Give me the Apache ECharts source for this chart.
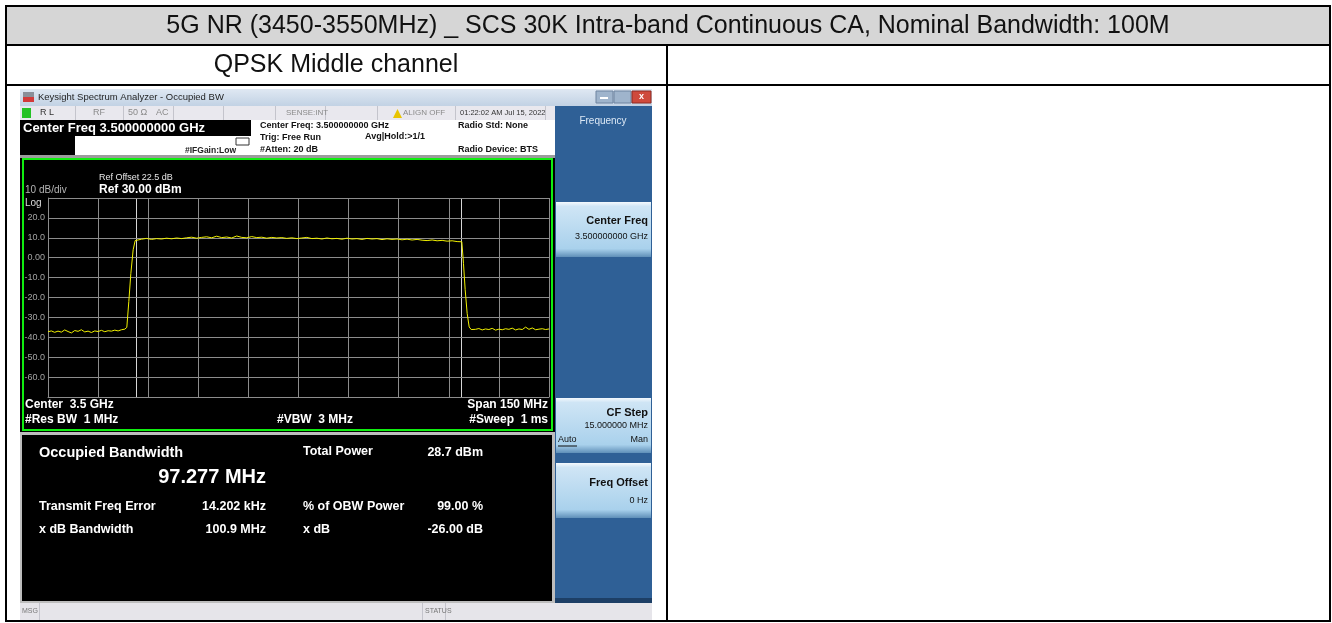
<!DOCTYPE html>
<html>
<head>
<meta charset="utf-8">
<script src="https://cdn.jsdelivr.net/npm/echarts@6/dist/echarts.min.js"></script>
<style>
html,body{margin:0;padding:0;background:#fff;}
#chart{width:1332px;height:623px;}
</style>
</head>
<body>
<div id="chart"></div>
<script>
// trace: offset from center (MHz) / level (dBm)
var traceOffset = [
  -75,-74,-73,-72,-71,-70,-69,-68,-67,-66,-65,-64,-63,-62,-61,-60,-59,-58,-57,-56,-55,-54,-53,-52,
  -51.4,-50.8,-50.2,-49.5,-48.9,-48.4,
  -47,-45.5,-44,-42.5,-41,-39.5,-38,-36.5,-35,-33.5,-32,-30.5,-29,-27.5,-26,-24.5,-23,-21.5,-20,-18.5,
  -17,-15.5,-14,-12.5,-11,-9.5,-8,-6.5,-5,-3.5,-2,-0.5,1,2.5,4,5.5,7,8.5,10,11.5,13,14.5,16,17.5,
  19,20.5,22,23.5,25,26.5,28,29.5,31,32.5,34,35.5,37,38.5,40,41.5,43,44.5,46,47.5,
  48.9,49.4,49.9,50.5,51.1,51.7,
  53,54,55,56,57,58,59,60,61,62,63,64,65,66,67,68,69,70,71,72,73,74,75
];
var traceLevel = [
  -37.2,-36.8,-37.5,-36.9,-37.4,-36.3,-37.1,-37.8,-36.6,-37.0,-36.2,-37.3,-36.9,-37.6,-36.8,-37.1,-36.5,-37.2,-36.7,-36.9,-36.4,-36.8,-36.2,-35.9,
  -35.0,-22,-8,4,8.6,9.1,
  9.3,9.7,9.2,9.6,9.4,9.8,9.5,9.9,9.6,10.0,10.3,9.8,10.2,10.5,10.0,10.8,10.1,10.4,9.9,10.9,
  10.2,10.0,10.6,10.1,10.3,9.8,10.2,9.9,10.1,9.7,10.0,9.6,9.9,10.2,9.6,9.8,9.4,9.9,9.5,9.7,
  9.3,9.8,9.4,9.6,9.2,9.7,9.4,9.6,9.1,9.5,9.2,9.4,9.0,9.3,8.9,9.2,8.8,8.6,8.9,8.5,8.7,8.3,8.5,8.1,
  8.0,-3,-16,-28,-34.8,-36.1,
  -36.0,-35.6,-36.3,-35.8,-36.1,-35.5,-36.4,-35.9,-36.2,-35.7,-36.0,-35.4,-36.3,-35.8,-36.1,-34.9,-36.0,-35.3,-36.2,-35.9,-35.7,-36.1,-35.8
];
var obwEdges = [-48.64, 48.64];
var yTickLabels = ['', '20.0', '10.0', '0.00', '-10.0', '-20.0', '-30.0', '-40.0', '-50.0', '-60.0', ''];

var FONT = '"Liberation Sans", Arial, sans-serif';
var myChart = echarts.init(document.getElementById('chart'));

function rect(x, y, w, h, fill, stroke, lw) {
  return {type: 'rect', z: 0, shape: {x: x, y: y, width: w, height: h},
    style: {fill: fill, stroke: stroke || null, lineWidth: lw || 0}};
}
function line(x1, y1, x2, y2, c, lw) {
  return {type: 'line', z: 1, shape: {x1: x1, y1: y1, x2: x2, y2: y2},
    style: {stroke: c, lineWidth: lw || 1}};
}
function txt(x, y, s, size, color, bold, align) {
  return {type: 'text', z: 100, x: x, y: y,
    style: {text: s, fill: color, align: align || 'left', verticalAlign: 'middle',
      font: (bold ? 'bold ' : '') + size + 'px ' + FONT}};
}
function btnFill() {
  return new echarts.graphic.LinearGradient(0, 0, 0, 1, [
    {offset: 0, color: '#f4f9fd'}, {offset: 0.08, color: '#cfe5f5'},
    {offset: 0.85, color: '#a9d1ec'}, {offset: 1, color: '#5f8fb8'}]);
}

var g = [];
// word table
g.push(rect(0, 0, 1332, 623, '#ffffff'));
g.push(rect(6, 6, 1324, 39, '#d6d6d6'));
g.push(txt(668, 26, '5G NR (3450-3550MHz) _ SCS 30K Intra-band Continuous CA, Nominal Bandwidth: 100M', 25, '#111', false, 'center'));
g.push(txt(336, 65, 'QPSK Middle channel', 25, '#111', false, 'center'));

// analyzer window title bar
g.push(rect(20, 89, 632, 17, new echarts.graphic.LinearGradient(0, 0, 0, 1, [
  {offset: 0, color: '#dfe8f3'}, {offset: 1, color: '#c2d2e4'}])));
g.push(rect(23, 92, 11, 5, '#8a8f99'));
g.push(rect(23, 97, 11, 5, '#d23a3a'));
g.push(txt(38, 97.5, 'Keysight Spectrum Analyzer - Occupied BW', 9.5, '#1e1e1e'));
g.push(rect(596, 91, 17, 12, '#9fb4cc', '#6e84a0', 1));
g.push(rect(614, 91, 17, 12, '#9fb4cc', '#6e84a0', 1));
g.push(rect(632, 91, 19, 12, '#cf4a3c', '#8e2a22', 1));
g.push(line(600, 98, 608, 98, '#ffffff', 2));
g.push(txt(641.5, 97, 'x', 9, '#ffffff', true, 'center'));

// status row
g.push(rect(20, 106, 535, 14, '#e9e8ee'));
g.push(rect(22, 108, 9, 10, '#25c225'));
g.push(txt(40, 113, 'R L', 9, '#333'));
g.push(txt(93, 113, 'RF', 9, '#8a8a8a'));
g.push(txt(128, 113, '50 Ω', 9, '#8a8a8a'));
g.push(txt(156, 113, 'AC', 9, '#8a8a8a'));
g.push(txt(286, 113, 'SENSE:INT', 8, '#8a8a8a'));
g.push({type: 'polygon', z: 100, shape: {points: [[393, 118], [402, 118], [397.5, 109]]}, style: {fill: '#e8c400'}});
g.push(txt(403, 113, 'ALIGN OFF', 8, '#8a8a8a'));
g.push(txt(460, 113, '01:22:02 AM Jul 15, 2022', 7.5, '#333'));
[75, 123, 173, 223, 275, 325, 377, 455, 545].forEach(function (x) {
  g.push(line(x + 0.5, 106, x + 0.5, 120, '#c4c4cc', 1));
});

// settings rows
g.push(rect(20, 120, 535, 36, '#ffffff'));
g.push(rect(20, 120, 231, 16, '#000000'));
g.push(txt(23, 128.5, 'Center Freq 3.500000000 GHz', 13, '#ffffff', true));
g.push(rect(20, 136, 55, 20, '#000000'));
g.push(txt(185, 151, '#IFGain:Low', 8.5, '#222', true));
g.push(rect(236, 138, 13, 7, '#ffffff', '#333', 1));
g.push(txt(260, 126, 'Center Freq: 3.500000000 GHz', 9, '#111', true));
g.push(txt(260, 138, 'Trig: Free Run', 9, '#111', true));
g.push(txt(260, 149.5, '#Atten: 20 dB', 9, '#111', true));
g.push(txt(365, 137, 'Avg|Hold:>1/1', 9, '#111', true));
g.push(txt(458, 126, 'Radio Std: None', 9, '#111', true));
g.push(txt(458, 149.5, 'Radio Device: BTS', 9, '#111', true));
g.push(rect(20, 155, 535, 3, '#9c9c9c'));

// plot frame
g.push(rect(20, 158, 535, 276, '#000000'));
g.push(rect(23, 159, 529, 271, '#000000', '#10ee10', 2));
g.push(txt(99, 178, 'Ref Offset 22.5 dB', 9, '#e6e6e6'));
g.push(txt(99, 190, 'Ref 30.00 dBm', 12, '#ffffff', true));
g.push(txt(25, 190, '10 dB/div', 10, '#b4b4b4'));
g.push(txt(25, 203, 'Log', 10, '#dcdcdc'));
g.push(txt(25, 405, 'Center  3.5 GHz', 12, '#ffffff', true));
g.push(txt(25, 420, '#Res BW  1 MHz', 12, '#ffffff', true));
g.push(txt(277, 420, '#VBW  3 MHz', 12, '#ffffff', true));
g.push(txt(548, 405, 'Span 150 MHz', 12, '#ffffff', true, 'right'));
g.push(txt(548, 420, '#Sweep  1 ms', 12, '#ffffff', true, 'right'));

// result panel
g.push(rect(20, 432, 535, 171, '#bdbdbd'));
g.push(rect(22, 435, 530, 166, '#000000'));
g.push(txt(39, 453, 'Occupied Bandwidth', 14.5, '#ffffff', true));
g.push(txt(266, 477, '97.277 MHz', 20, '#ffffff', true, 'right'));
g.push(txt(39, 507, 'Transmit Freq Error', 12.5, '#ffffff', true));
g.push(txt(266, 507, '14.202 kHz', 12.5, '#ffffff', true, 'right'));
g.push(txt(39, 530, 'x dB Bandwidth', 12.5, '#ffffff', true));
g.push(txt(266, 530, '100.9 MHz', 12.5, '#ffffff', true, 'right'));
g.push(txt(303, 452, 'Total Power', 12.5, '#ffffff', true));
g.push(txt(483, 453, '28.7 dBm', 12.5, '#ffffff', true, 'right'));
g.push(txt(303, 507, '% of OBW Power', 12.5, '#ffffff', true));
g.push(txt(483, 507, '99.00 %', 12.5, '#ffffff', true, 'right'));
g.push(txt(303, 530, 'x dB', 12.5, '#ffffff', true));
g.push(txt(483, 530, '-26.00 dB', 12.5, '#ffffff', true, 'right'));

// softkey panel
g.push(rect(555, 106, 97, 497, '#2f6096'));
g.push(rect(555, 598, 97, 5, '#1d3f66'));
g.push(txt(603, 121, 'Frequency', 10, '#dce8f5', false, 'center'));
g.push(rect(556, 202, 95, 55, btnFill()));
g.push(txt(648, 221, 'Center Freq', 11, '#111', true, 'right'));
g.push(txt(648, 237, '3.500000000 GHz', 9, '#111', false, 'right'));
g.push(rect(556, 398, 95, 55, btnFill()));
g.push(txt(648, 413, 'CF Step', 11, '#111', true, 'right'));
g.push(txt(648, 426, '15.000000 MHz', 9, '#111', false, 'right'));
g.push(txt(558, 440, 'Auto', 9, '#111'));
g.push(line(558, 446, 577, 446, '#111', 1));
g.push(txt(648, 440, 'Man', 9, '#111', false, 'right'));
g.push(rect(556, 463, 95, 55, btnFill()));
g.push(txt(648, 483, 'Freq Offset', 11, '#111', true, 'right'));
g.push(txt(648, 501, '0 Hz', 9, '#111', false, 'right'));

// msg bar
g.push(rect(20, 603, 632, 17, '#e6e5ea'));
g.push(txt(22, 611.5, 'MSG', 7, '#777'));
g.push(line(39.5, 603, 39.5, 620, '#c4c4cc', 1));
g.push(line(422.5, 603, 422.5, 620, '#c4c4cc', 1));
g.push(txt(425, 611.5, 'STATUS', 7, '#777'));
g.push(line(445.5, 603, 445.5, 620, '#c4c4cc', 1));

// table borders on top
g.push({type: 'rect', z: 120, shape: {x: 6, y: 6, width: 1324, height: 615},
  style: {fill: null, stroke: '#000', lineWidth: 2}});
g.push({type: 'line', z: 120, shape: {x1: 6, y1: 45, x2: 1330, y2: 45}, style: {stroke: '#000', lineWidth: 2}});
g.push({type: 'line', z: 120, shape: {x1: 6, y1: 85, x2: 1330, y2: 85}, style: {stroke: '#000', lineWidth: 2}});
g.push({type: 'line', z: 120, shape: {x1: 667, y1: 45, x2: 667, y2: 621}, style: {stroke: '#000', lineWidth: 2}});

var gridColor = '#8c8c8c';
var option = {
  animation: false,
  backgroundColor: '#ffffff',
  graphic: {elements: g},
  grid: {left: 48, top: 198, width: 501, height: 199, containLabel: false},
  xAxis: {
    type: 'value', min: -75, max: 75, interval: 15, z: 10,
    axisLine: {show: true, onZero: false, lineStyle: {color: gridColor}},
    axisTick: {show: false}, axisLabel: {show: false},
    splitLine: {show: true, lineStyle: {color: gridColor, width: 1}}
  },
  yAxis: {
    type: 'value', min: -70, max: 30, interval: 10, z: 10,
    axisLine: {show: true, onZero: false, lineStyle: {color: gridColor}},
    axisTick: {show: false},
    axisLabel: {
      color: '#a4a4a4', fontSize: 9, fontFamily: FONT, margin: 3,
      formatter: function (v) { return yTickLabels[Math.round((30 - v) / 10)]; }
    },
    splitLine: {show: true, lineStyle: {color: gridColor, width: 1}}
  },
  series: [{
    type: 'line', z: 20, showSymbol: false, symbol: 'none', silent: true,
    data: traceOffset.map(function (x, i) { return [x, traceLevel[i]]; }),
    lineStyle: {color: '#f2f200', width: 1},
    markLine: {
      silent: true, symbol: 'none', label: {show: false},
      lineStyle: {color: '#d6d6d6', width: 1, type: 'solid'},
      data: obwEdges.map(function (x) { return {xAxis: x}; })
    }
  }]
};
myChart.setOption(option);
</script>
</body>
</html>
